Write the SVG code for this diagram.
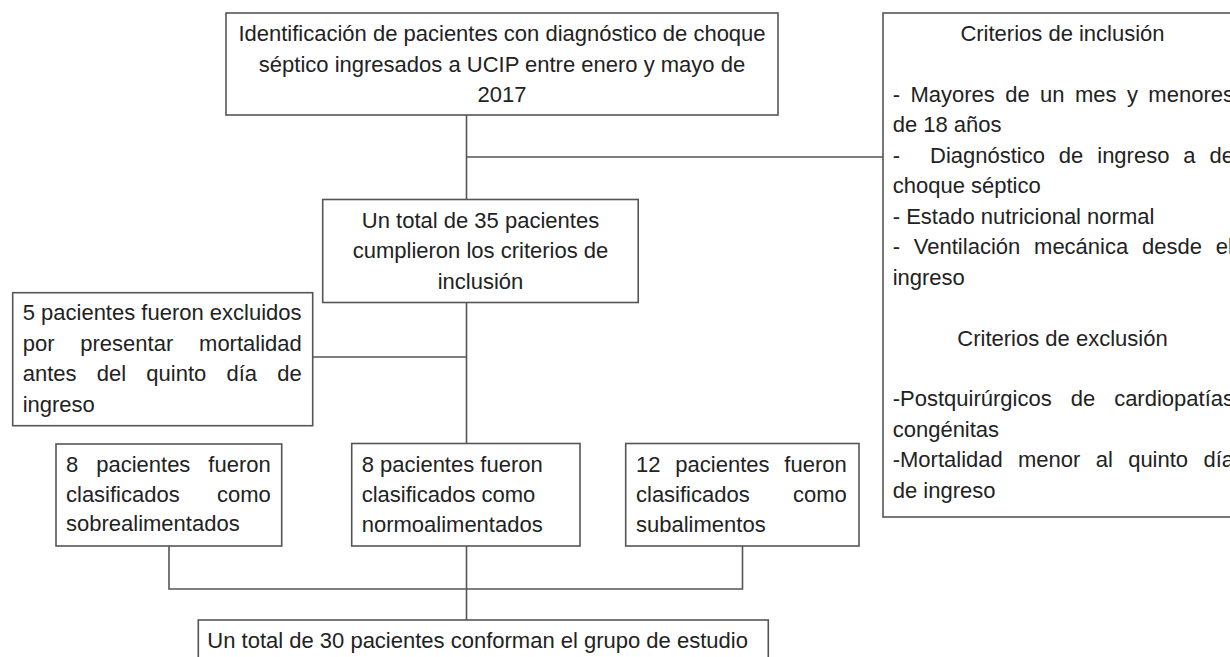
<svg xmlns="http://www.w3.org/2000/svg" width="1230" height="657" viewBox="0 0 1230 657">
<style>
  .box { fill: #ffffff; stroke: #555555; stroke-width: 1.6; }
  .ln { fill: none; stroke: #555555; stroke-width: 1.6; }
  text { font-family: "Liberation Sans", Arial, sans-serif; font-size: 22px; fill: #222222; }
  .c { text-anchor: middle; }
</style>
<rect width="1230" height="657" fill="#ffffff"/>
<g id="connectors">
  <path class="ln" d="M466.5 115 V199.5"/>
  <path class="ln" d="M466.5 157 H883"/>
  <path class="ln" d="M466.5 302.5 V443.5"/>
  <path class="ln" d="M312.5 357 H466.5"/>
  <path class="ln" d="M466.5 546 V620"/>
  <path class="ln" d="M169 546 V589 H742.5 V546"/>
</g>
<g id="n_identificacion">
  <rect class="box" x="226" y="13" width="552" height="102"/>
  <text class="c" x="502" y="41">Identificación de pacientes con diagnóstico de choque</text>
  <text class="c" x="502" y="71.5">séptico ingresados a UCIP entre enero y mayo de</text>
  <text class="c" x="502" y="102">2017</text>
</g>
<g id="n_criterios">
  <rect class="box" x="883" y="13" width="360" height="504"/>
  <text class="c" x="1062.5" y="41">Criterios de inclusión</text>
  <text x="892.7" y="101.5" word-spacing="4.3">- Mayores de un mes y menores</text>
  <text x="892.7" y="132">de 18 años</text>
  <text x="892.7" y="162.5">-</text>
  <text x="930" y="162.5" word-spacing="7.8">Diagnóstico de ingreso a de</text>
  <text x="892.7" y="193">choque séptico</text>
  <text x="892.7" y="223.5">- Estado nutricional normal</text>
  <text x="892.7" y="254" word-spacing="7.7">- Ventilación mecánica desde el</text>
  <text x="892.7" y="284.5">ingreso</text>
  <text class="c" x="1062.5" y="345.5">Criterios de exclusión</text>
  <text x="892.7" y="406" word-spacing="12.9">-Postquirúrgicos de cardiopatías</text>
  <text x="892.7" y="436.5">congénitas</text>
  <text x="892.7" y="467" word-spacing="9.2">-Mortalidad menor al quinto día</text>
  <text x="892.7" y="497.5">de ingreso</text>
</g>
<g id="n_total35">
  <rect class="box" x="322.7" y="199.5" width="315.5" height="103"/>
  <text class="c" x="480.5" y="227.5">Un total de 35 pacientes</text>
  <text class="c" x="480.5" y="258">cumplieron los criterios de</text>
  <text class="c" x="480.5" y="288.5">inclusión</text>
</g>
<g id="n_excluidos">
  <rect class="box" x="12.7" y="292.7" width="300" height="133"/>
  <text x="22.7" y="320">5 pacientes fueron excluidos</text>
  <text x="22.7" y="350.5" word-spacing="19.7">por presentar mortalidad</text>
  <text x="22.7" y="381" word-spacing="14.1">antes del quinto día de</text>
  <text x="22.7" y="411.5">ingreso</text>
</g>
<g id="n_sobre">
  <rect class="box" x="56" y="444" width="225.7" height="102"/>
  <text x="66" y="471.7" word-spacing="11.85">8 pacientes fueron</text>
  <text x="66" y="501.7" word-spacing="31.1">clasificados como</text>
  <text x="66" y="531.2">sobrealimentados</text>
</g>
<g id="n_normo">
  <rect class="box" x="351.7" y="443.5" width="228.3" height="102.5"/>
  <text x="361.7" y="471.7">8 pacientes fueron</text>
  <text x="361.7" y="501.7">clasificados como</text>
  <text x="361.7" y="531.7">normoalimentados</text>
</g>
<g id="n_sub">
  <rect class="box" x="625.7" y="443.5" width="233.3" height="102.5"/>
  <text x="636" y="471.7" word-spacing="8.75">12 pacientes fueron</text>
  <text x="636" y="501.7" word-spacing="37.1">clasificados como</text>
  <text x="636" y="531.7">subalimentos</text>
</g>
<g id="n_total30">
  <rect class="box" x="198.3" y="620" width="570" height="60"/>
  <text x="207.3" y="648.3">Un total de 30 pacientes conforman el grupo de estudio</text>
</g>
</svg>
